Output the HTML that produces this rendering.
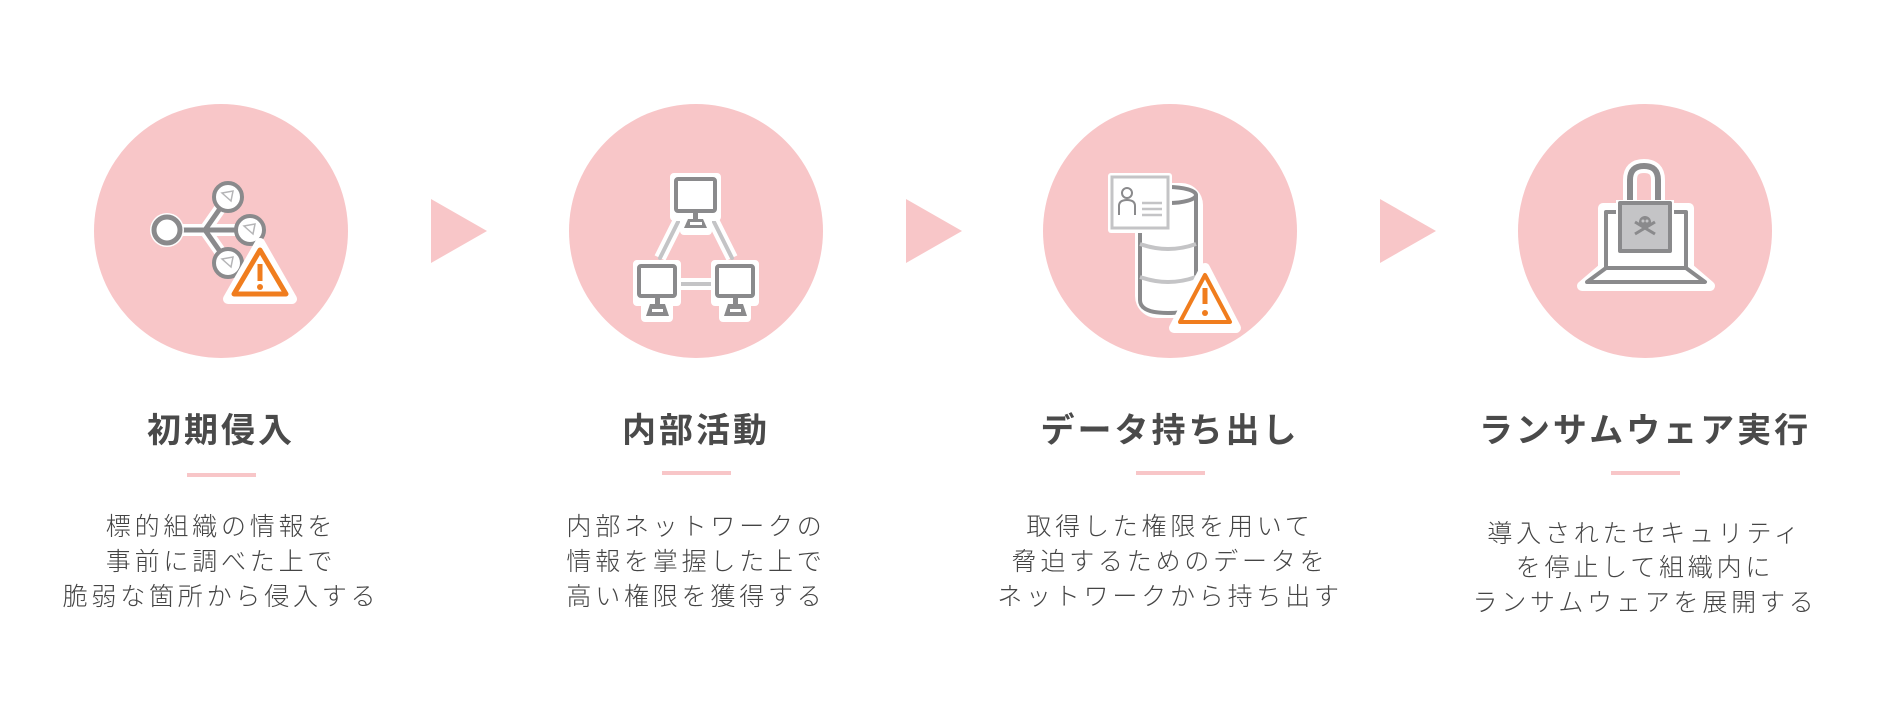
<!DOCTYPE html>
<html><head><meta charset="utf-8"><style>
html,body{margin:0;padding:0;background:#fff;}
svg{display:block;}
.t{font-family:"Liberation Sans","Noto Sans CJK JP",sans-serif;font-weight:700;font-size:34px;fill:#4a4a4a;letter-spacing:3px;text-anchor:middle;dominant-baseline:central;}
.d{font-family:"Liberation Sans","Noto Sans CJK JP",sans-serif;font-weight:300;font-size:25px;fill:#444;letter-spacing:3.8px;text-anchor:middle;dominant-baseline:central;}
</style></head><body>
<svg width="1897" height="707" viewBox="0 0 1897 707" xmlns="http://www.w3.org/2000/svg">
<g fill="#f8c6c8">
<circle cx="221" cy="231" r="127"/>
<circle cx="696" cy="231" r="127"/>
<circle cx="1170" cy="231" r="127"/>
<circle cx="1645" cy="231" r="127"/>
<polygon points="431,199 487,231 431,263"/>
<polygon points="906,199 962,231 906,263"/>
<polygon points="1380,199 1436,231 1380,263"/>
<rect x="187" y="473" width="69" height="4"/>
<rect x="662" y="471" width="69" height="4"/>
<rect x="1136" y="471" width="69" height="4"/>
<rect x="1611" y="471" width="69" height="4"/>
</g>

<!-- icon 1 -->
<g stroke-linecap="round">
<path d="M167 230 H205 M205 230 L226 200 M205 230 H248 M205 230 L226 260" stroke="#fff" stroke-width="12" fill="none"/>
<path d="M167 230 H205 M205 230 L226 200 M205 230 H248 M205 230 L226 260" stroke="#8a8a8c" stroke-width="5" fill="none"/>
<circle cx="167" cy="230" r="17" fill="#fff"/>
<circle cx="167" cy="230" r="13" fill="#fff" stroke="#8a8a8c" stroke-width="5"/>
<g fill="#fff" stroke="#8a8a8c" stroke-width="4">
<circle cx="228" cy="197" r="14"/><circle cx="250" cy="230" r="14"/><circle cx="228" cy="263" r="14"/>
</g>
<g stroke="#b5b5b7" stroke-width="1.5" fill="#fff">
<path d="M222 193 L233 191 L231 201 Z M244 226 L255 224 L253 234 Z M222 259 L233 257 L231 267 Z"/>
</g>
<path d="M260 243 L292 299 L228 299 Z" fill="#fff" stroke="#fff" stroke-width="10" stroke-linejoin="round"/>
<path d="M260 250 L286 294 L234 294 Z" fill="#fff" stroke="#f07d1e" stroke-width="5" stroke-linejoin="round"/>
<rect x="257.5" y="264" width="5" height="17" fill="#f07d1e"/><circle cx="260" cy="287" r="3" fill="#f07d1e"/>
</g>

<!-- icon 2 -->
<g>
<path d="M680 218 L660 258 M712 218 L732 258 M678 284 H713" stroke="#fff" stroke-width="12" fill="none"/>
<path d="M680 218 L660 258 M712 218 L732 258 M678 284 H713" stroke="#c4c4c6" stroke-width="4" fill="none" stroke-linecap="round"/>
<g fill="#fff" stroke="#fff" stroke-width="8" stroke-linejoin="round">
<rect x="674" y="177" width="43" height="40"/><rect x="637" y="264" width="40" height="38"/><rect x="715" y="264" width="40" height="38"/>
<rect x="684" y="217" width="24" height="14"/><rect x="645" y="302" width="24" height="16"/><rect x="723" y="302" width="24" height="16"/>
</g>
<g fill="#fff" stroke="#8a8a8c" stroke-width="4">
<rect x="676" y="179" width="39" height="32" rx="2"/><rect x="639" y="266" width="36" height="30" rx="2"/><rect x="717" y="266" width="36" height="30" rx="2"/>
</g>
<g fill="#8a8a8c">
<rect x="693" y="211" width="5" height="9"/><path d="M684 228 L688 219 H703 L707 228 Z"/>
<rect x="655" y="296" width="5" height="8"/><path d="M646 316 L650 304 H665 L669 316 Z"/>
<rect x="733" y="296" width="5" height="8"/><path d="M724 316 L728 304 H743 L747 316 Z"/>
</g>
<g fill="#fff"><rect x="690" y="222" width="12" height="3"/><rect x="652" y="309" width="11" height="3"/><rect x="730" y="309" width="11" height="3"/></g>
</g>

<!-- icon 3 -->
<g>
<rect x="1135" y="183" width="68" height="135" rx="22" fill="#fff"/>
<path d="M1140 195 V300 Q1140 313 1168 313 Q1196 313 1196 300 V195" fill="#fff" stroke="#8a8a8c" stroke-width="4"/>
<ellipse cx="1168" cy="195" rx="28" ry="8" fill="#fff" stroke="#8a8a8c" stroke-width="4"/>
<path d="M1140 244 Q1168 254 1196 244 M1140 277 Q1168 287 1196 277" stroke="#c4c4c6" stroke-width="4" fill="none"/>
<rect x="1108" y="173" width="64" height="60" rx="3" fill="#fff"/>
<rect x="1112" y="177" width="56" height="51" fill="#fff" stroke="#c4c4c6" stroke-width="3"/>
<circle cx="1127" cy="193" r="5" fill="none" stroke="#8a8a8c" stroke-width="2"/>
<path d="M1119 215 V206 Q1119 200 1127 200 Q1135 200 1135 206 V215" fill="none" stroke="#8a8a8c" stroke-width="2"/>
<path d="M1142 203 H1162 M1142 209 H1162 M1142 215 H1162" stroke="#c4c4c6" stroke-width="2.5"/>
<path d="M1205 268 L1236 328 L1174 328 Z" fill="#fff" stroke="#fff" stroke-width="10" stroke-linejoin="round"/>
<path d="M1205 275 L1230 322 L1180 322 Z" fill="#fff" stroke="#f07d1e" stroke-width="4" stroke-linejoin="round"/>
<rect x="1202.5" y="288" width="5" height="16" fill="#f07d1e"/><circle cx="1205" cy="313" r="3" fill="#f07d1e"/>
</g>

<!-- icon 4 -->
<g stroke-linejoin="round">
<path d="M1603 208 H1689 V268 L1710 286 H1582 L1603 268 Z" fill="#fff" stroke="#fff" stroke-width="10"/>
<path d="M1606 212 H1686 V268 H1606 Z" fill="#fff" stroke="#8a8a8c" stroke-width="4"/>
<path d="M1606 268 H1686 L1705 282 H1587 Z" fill="#fff" stroke="#8a8a8c" stroke-width="4"/>
<path d="M1630 202 V180 Q1630 166 1644 166 Q1658 166 1658 180 V202" fill="none" stroke="#fff" stroke-width="14"/>
<path d="M1630 202 V180 Q1630 166 1644 166 Q1658 166 1658 180 V202" fill="none" stroke="#8a8a8c" stroke-width="6"/>
<rect x="1616" y="200" width="58" height="54" fill="#fff"/>
<rect x="1620" y="203" width="50" height="48" fill="#c4c4c6" stroke="#8a8a8c" stroke-width="4"/>
<g fill="#8a8a8c" stroke="#8a8a8c">
<circle cx="1645" cy="222" r="6" stroke="none"/>
<path d="M1635 222 L1655 234 M1655 222 L1635 234" stroke-width="3"/>
</g>
<circle cx="1643" cy="221" r="1.5" fill="#c4c4c6"/><circle cx="1647" cy="221" r="1.5" fill="#c4c4c6"/>
</g>

<text class="t" x="221" y="431">初期侵入</text>
<text class="t" x="696" y="431">内部活動</text>
<text class="t" x="1170" y="431">データ持ち出し</text>
<text class="t" x="1645" y="431">ランサムウェア実行</text>

<text class="d" x="221" y="527">標的組織の情報を</text>
<text class="d" x="221" y="562">事前に調べた上で</text>
<text class="d" x="221" y="597">脆弱な箇所から侵入する</text>

<text class="d" x="696" y="527">内部ネットワークの</text>
<text class="d" x="696" y="562">情報を掌握した上で</text>
<text class="d" x="696" y="597">高い権限を獲得する</text>

<text class="d" x="1170" y="527">取得した権限を用いて</text>
<text class="d" x="1170" y="562">脅迫するためのデータを</text>
<text class="d" x="1170" y="597">ネットワークから持ち出す</text>

<text class="d" x="1645" y="534">導入されたセキュリティ</text>
<text class="d" x="1645" y="568">を停止して組織内に</text>
<text class="d" x="1645" y="603">ランサムウェアを展開する</text>
</svg>
</body></html>
